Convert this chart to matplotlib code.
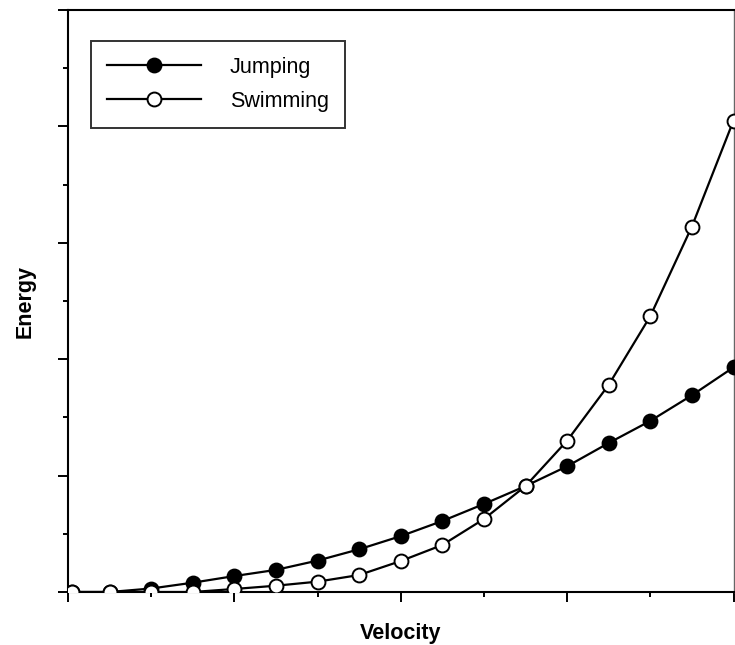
import matplotlib
matplotlib.use("Agg")
import matplotlib.pyplot as plt
from matplotlib.ticker import MultipleLocator, NullFormatter

velocity = [0.1, 1, 2, 3, 4, 5, 6, 7, 8, 9, 10, 11, 12, 13, 14, 15, 16]
jumping = [0.0, 0.0, 0.03, 0.08, 0.137, 0.19, 0.27, 0.367, 0.48, 0.61, 0.756, 0.91, 1.08, 1.28, 1.47, 1.69, 1.93]
swimming = [0.0, 0.0, 0.0, 0.0, 0.026, 0.054, 0.089, 0.146, 0.266, 0.404, 0.627, 0.91, 1.30, 1.78, 2.37, 3.14, 4.05]
series_names = ["Jumping", "Swimming"]
x_label = "Velocity"
y_label = "Energy"

plt.rcParams['font.family'] = ['Liberation Sans', 'DejaVu Sans']

W, H = 735, 645
fig = plt.figure(figsize=(W / 100, H / 100), dpi=100)
left, right, top, bottom = 68, 733.5, 10, 592
aw, ah = right - left, bottom - top
ax = fig.add_axes([left / W, (H - bottom) / H, aw / W, ah / H])

ax.plot(velocity, jumping, color='black', lw=1.6, marker='o', ms=10,
        mfc='black', mec='black', mew=1.4, label=series_names[0], zorder=3)
ax.plot(velocity, swimming, color='black', lw=1.6, marker='o', ms=10,
        mfc='white', mec='black', mew=1.4, label=series_names[1], zorder=4)

ax.set_xlim(0, 16)
ax.set_ylim(0, 5)
ax.xaxis.set_major_locator(MultipleLocator(4))
ax.xaxis.set_minor_locator(MultipleLocator(2))
ax.yaxis.set_major_locator(MultipleLocator(1))
ax.yaxis.set_minor_locator(MultipleLocator(0.5))
ax.xaxis.set_major_formatter(NullFormatter())
ax.yaxis.set_major_formatter(NullFormatter())
ax.tick_params(which='major', direction='out', length=7.5, width=1.4, color='black')
ax.tick_params(which='minor', direction='out', length=3.5, width=1.4, color='black')
ax.tick_params(top=False, right=False, which='both')

for s in ['left', 'bottom', 'top']:
    ax.spines[s].set_linewidth(1.5)
    ax.spines[s].set_color('black')
ax.spines['right'].set_linewidth(1.0)
ax.spines['right'].set_color('#666666')

ax.set_xlabel(x_label, fontsize=15.5, fontweight='bold', va='center')
ax.xaxis.set_label_coords(0.5, -(634 - bottom) / ah)
ax.set_ylabel(y_label, fontsize=15.5, fontweight='bold', va='center')
ax.yaxis.set_label_coords(-(left - 25) / aw, (bottom - 301) / ah)

fs = 15.5
px = fs * 100 / 72
leg = ax.legend(loc='upper left', bbox_to_anchor=(23 / aw, 1 - 31 / ah),
                fontsize=fs, frameon=True, fancybox=False, handlelength=94 / px,
                handletextpad=29 / px, borderpad=0.74, labelspacing=0.6, borderaxespad=0)
leg.get_frame().set_edgecolor('black')
leg.get_frame().set_linewidth(1.4)

fig.savefig("out.png", dpi=100)
